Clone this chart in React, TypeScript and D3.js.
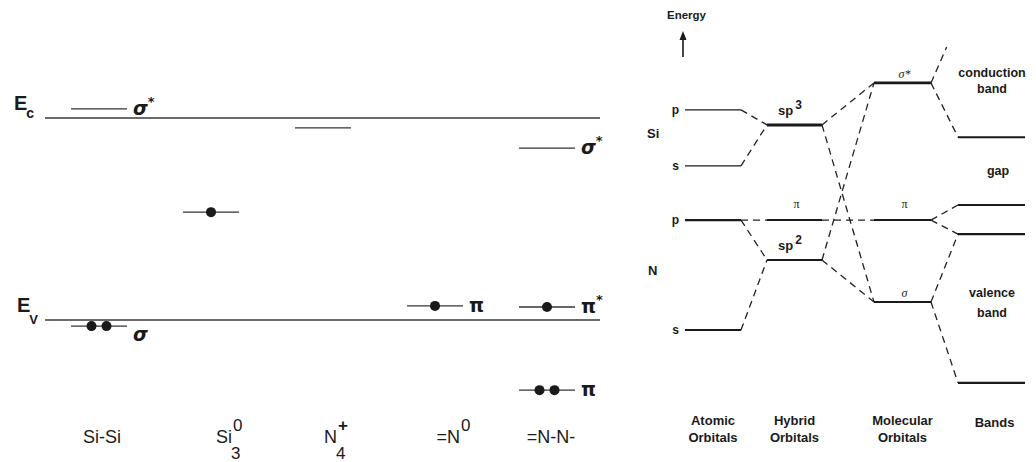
import React from 'react';
import { scaleBand, scaleLinear, scaleOrdinal } from 'd3';

// ---- left panel: defect levels in the Si3N4 gap (eV above Ev)
const defectNames = ['Si-Si', 'Si3', 'N4', 'N0', 'NN'];
const defectLabels = [
  { base: 'Si-Si', sup: '', sub: '' },
  { base: 'Si', sup: '0', sub: '3' },
  { base: 'N', sup: '+', sub: '4' },
  { base: '=N', sup: '0', sub: '' },
  { base: '=N-N-', sup: '', sub: '' },
];
const edgeNames = ['c', 'v'];
const edgeE = [5.3, 0];
const defectCat = ['Si-Si', 'Si-Si', 'Si3', 'N4', 'N0', 'NN', 'NN', 'NN'];
const defectE = [5.54, -0.16, 2.83, 5.04, 0.37, 4.51, 0.34, -1.84];
const defectElectrons = [0, 2, 1, 0, 1, 0, 1, 2];
const defectSymbol = ['σ*', 'σ', '', '', 'π', 'σ*', 'π*', 'π'];

// ---- right panel: orbital scheme (arbitrary energy units)
const columns = ['Atomic Orbitals', 'Hybrid Orbitals', 'Molecular Orbitals', 'Bands'];
const levelIds = ['SiP', 'SiS', 'NP', 'NS', 'sp3', 'sp2', 'piH', 'sigStar', 'piMO', 'sigma', 'cb', 'vbTop', 'vbMid', 'vbBot', 'cbUp'];
const levelCol = [0, 0, 0, 0, 1, 1, 1, 2, 2, 2, 3, 3, 3, 3, 3];
const levelE = [8.29, 6.69, 5.14, 2.0, 7.86, 4.0, 5.14, 9.06, 5.14, 2.8, 7.51, 5.57, 4.74, 0.49, 10.83];
const levelName = ['p', 's', 'p', 's', 'sp3', 'sp2', 'π', 'σ*', 'π', 'σ', '', '', '', '', ''];
const links = [
  ['SiP', 'sp3'], ['SiS', 'sp3'], ['NP', 'sp2'], ['NS', 'sp2'], ['NP', 'piH'], ['piH', 'piMO'],
  ['sp3', 'sigStar'], ['sp3', 'sigma'], ['sp2', 'sigStar'], ['sp2', 'sigma'],
  ['sigStar', 'cb'], ['sigStar', 'cbUp'], ['piMO', 'vbTop'], ['piMO', 'vbMid'], ['sigma', 'vbMid'], ['sigma', 'vbBot'],
];
const linkReach = [1, 1, 1, 1, 1, 1, 1, 1, 1, 1, 1, 0.58, 1, 1, 1, 1];

// layout
const colLeft = [685, 767, 874, 958];
const colWidth = [56, 55, 57, 67];
const levelWidth: Record<string, number> = { SiP: 1.4, SiS: 1.4, NP: 2.4, NS: 1.8, sp3: 3, sp2: 2, piH: 2, sigStar: 2.6, piMO: 2, sigma: 2, cb: 2, vbTop: 2, vbMid: 2.4, vbBot: 2.4, cbUp: 0 };
const labelShift = [-9, 9, 2, 13, -8];

const sans = 'Liberation Sans, Arial, sans-serif';
const ink = '#1a1a1a';

const App = () => {
  const W = 1036;
  const H = 462;

  // left scales
  const xCat = scaleBand<string>().domain(defectNames).range([55, 615]);
  const yL = scaleLinear().domain([0, 5.3]).range([320, 118]);
  const levelHalf = 28;

  // right scales
  const xCol = scaleOrdinal<number, number>().domain([0, 1, 2, 3]).range(colLeft);
  const wCol = scaleOrdinal<number, number>().domain([0, 1, 2, 3]).range(colWidth);
  const yR = scaleLinear().domain([0, 10]).range([400, 50]);

  const lvl = (id: string) => {
    const i = levelIds.indexOf(id);
    const c = levelCol[i];
    return { x0: xCol(c), x1: xCol(c) + wCol(c), y: yR(levelE[i]) };
  };

  return (
    <svg width={W} height={H} style={{ position: 'absolute', left: 0, top: 0, background: '#fff' }}>
      {/* ---------- left panel ---------- */}
      {edgeNames.map((n, i) => (
        <g key={n}>
          <line x1={45} x2={600} y1={yL(edgeE[i])} y2={yL(edgeE[i])} stroke="#3a3a3a" strokeWidth={1.4} />
          <text x={n === 'c' ? 14 : 17} y={yL(edgeE[i]) - 8} fontFamily={sans} fontWeight="bold" fontSize={20} fill={ink}>
            E
            <tspan fontSize={n === 'c' ? 14 : 13} dy={n === 'c' ? 8 : 12} dx={-1}>{n === 'c' ? 'c' : 'V'}</tspan>
          </text>
        </g>
      ))}

      {defectCat.map((c, i) => {
        const cx = (xCat(c) as number) + xCat.bandwidth() / 2 - 12;
        const y = yL(defectE[i]);
        const n = defectElectrons[i];
        const dots = n === 1 ? [0] : n === 2 ? [-7.5, 7.5] : [];
        const sym = defectSymbol[i];
        return (
          <g key={i}>
            <line x1={cx - levelHalf} x2={cx + levelHalf} y1={y} y2={y} stroke="#333" strokeWidth={1.4} />
            {dots.map((d) => (
              <circle key={d} cx={cx + d} cy={y} r={5} fill={ink} />
            ))}
            {sym && (
              <text
                x={cx + levelHalf + 6}
                y={y + (sym[0] === 'σ' && i === 1 ? 15 : 6)}
                fontFamily="DejaVu Sans, sans-serif"
                fontWeight="bold"
                fontStyle={sym[0] === 'σ' ? 'italic' : 'normal'}
                fontSize={19}
                fill={ink}
              >
                {sym[0]}
                {sym.length > 1 && (
                  <tspan fontSize={13} dy={-9} fontStyle="normal">*</tspan>
                )}
              </text>
            )}
          </g>
        );
      })}

      {defectLabels.map((d, i) => {
        const cx = (xCat(defectNames[i]) as number) + xCat.bandwidth() / 2 + labelShift[i];
        const hasScript = d.sup || d.sub;
        return (
          <g key={i} fontFamily={sans} fontSize={18} fill={ink}>
            <text x={cx} y={443} textAnchor={hasScript ? 'end' : 'middle'}>
              {d.base}
            </text>
            {d.sup && (
              <text x={cx + 1} y={431} fontSize={17} fontWeight={d.sup === '+' ? 'bold' : 'normal'}>{d.sup}</text>
            )}
            {d.sub && (
              <text x={cx - 1} y={459} fontSize={17}>{d.sub}</text>
            )}
          </g>
        );
      })}

      {/* ---------- right panel ---------- */}
      <text x={667} y={19} fontFamily={sans} fontWeight="bold" fontSize={11.5} fill={ink}>Energy</text>
      <line x1={683} x2={683} y1={57} y2={38} stroke={ink} strokeWidth={1.6} />
      <path d="M679.5,40 L683,31 L686.5,40 Z" fill={ink} />

      {links.map(([a, b], i) => {
        const p = lvl(a);
        const q = lvl(b);
        const t = linkReach[i];
        return (
          <line
            key={i}
            x1={p.x1}
            y1={p.y}
            x2={p.x1 + (q.x0 - p.x1) * t}
            y2={p.y + (q.y - p.y) * t}
            stroke="#222"
            strokeWidth={1.3}
            strokeDasharray="7 5"
          />
        );
      })}

      {levelIds.map((id, i) => {
        if (levelWidth[id] === 0) return null;
        const l = lvl(id);
        const name = levelName[i];
        const c = levelCol[i];
        let label: React.ReactNode = null;
        if (c === 0) {
          label = (
            <text x={l.x0 - 6} y={l.y + 4} textAnchor="end" fontFamily={sans} fontWeight="bold" fontSize={12} fill={ink}>
              {name}
            </text>
          );
        } else if (name.startsWith('sp')) {
          label = (
            <text x={l.x0 + 11} y={l.y - 10} fontFamily={sans} fontWeight="bold" fontSize={13} fill={ink}>
              sp<tspan dy={-6} dx={2} fontSize={12}>{name[2]}</tspan>
            </text>
          );
        } else if (name) {
          const isPi = name === 'π';
          label = (
            <text
              x={(l.x0 + l.x1) / 2 + 2}
              y={l.y - (isPi ? 12 : 5)}
              textAnchor="middle"
              fontFamily="Liberation Serif, serif"
              fontStyle={isPi ? 'normal' : 'italic'}
              fontSize={12}
              fill={ink}
            >
              {name}
            </text>
          );
        }
        return (
          <g key={id}>
            <line x1={l.x0} x2={l.x1} y1={l.y} y2={l.y} stroke={ink} strokeWidth={levelWidth[id]} />
            {label}
          </g>
        );
      })}

      <g fontFamily={sans} fontWeight="bold" fontSize={13} fill={ink}>
        <text x={647} y={138}>Si</text>
        <text x={648} y={275}>N</text>
      </g>

      <g fontFamily={sans} fontWeight="bold" fontSize={12.5} fill={ink} textAnchor="middle">
        <text x={992} y={77}>conduction</text>
        <text x={992} y={93}>band</text>
        <text x={998} y={175}>gap</text>
        <text x={992} y={297}>valence</text>
        <text x={992} y={317}>band</text>
      </g>

      <g fontFamily={sans} fontWeight="bold" fontSize={13} fill={ink} textAnchor="middle">
        {columns.map((c, i) => {
          const cx = xCol(i) + wCol(i) / 2;
          const words = c.split(' ');
          return i === 3 ? (
            <text key={c} x={cx + 3} y={427}>{c}</text>
          ) : (
            <text key={c} x={cx} y={425}>
              <tspan x={cx} dy={0}>{words[0]}</tspan>
              <tspan x={cx} dy={17}>{words[1]}</tspan>
            </text>
          );
        })}
      </g>
    </svg>
  );
};

export default App;
